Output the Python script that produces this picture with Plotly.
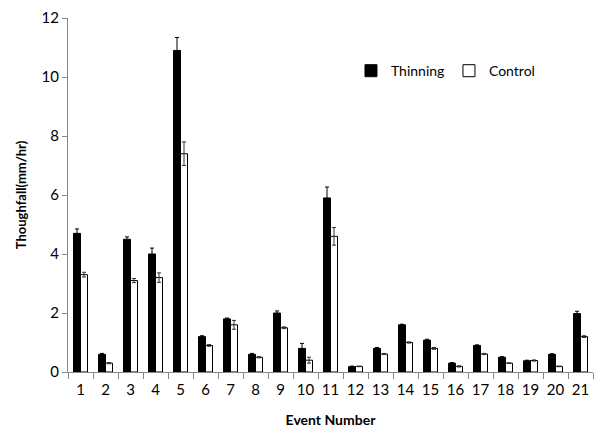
import plotly.graph_objects as go

events = [str(i) for i in range(1, 22)]
thinning = [4.7, 0.6, 4.5, 4.0, 10.9, 1.2, 1.8, 0.6, 2.0, 0.8, 5.9, 0.18, 0.8, 1.6, 1.08, 0.3, 0.9, 0.5, 0.38, 0.6, 1.98]
thinning_err = [0.15, 0.03, 0.08, 0.2, 0.44, 0.03, 0.03, 0.03, 0.07, 0.17, 0.37, 0.02, 0.03, 0.02, 0.03, 0.02, 0.02, 0.02, 0.02, 0.02, 0.08]
control = [3.3, 0.3, 3.1, 3.2, 7.4, 0.9, 1.6, 0.5, 1.5, 0.4, 4.6, 0.19, 0.61, 1.0, 0.8, 0.19, 0.61, 0.3, 0.39, 0.19, 1.2]
control_err = [0.08, 0.02, 0.07, 0.16, 0.4, 0.03, 0.15, 0.02, 0.03, 0.1, 0.3, 0.01, 0.02, 0.02, 0.03, 0.02, 0.02, 0.01, 0.02, 0.01, 0.03]

font = "Lato, 'Open Sans', sans-serif"

fig = go.Figure()
fig.add_trace(go.Bar(
    x=events, y=thinning, name="Thinning",
    marker=dict(color="black", line=dict(color="black", width=1)),
    error_y=dict(type="data", array=thinning_err, color="black", thickness=1, width=2),
))
fig.add_trace(go.Bar(
    x=events, y=control, name="Control",
    marker=dict(color="white", line=dict(color="black", width=1)),
    error_y=dict(type="data", array=control_err, color="#333", thickness=1, width=2),
))

fig.update_layout(
    width=596, height=429,
    margin=dict(l=68, r=3, t=18, b=57, autoexpand=False),
    paper_bgcolor="white", plot_bgcolor="white",
    barmode="group", bargap=0.44, bargroupgap=0,
    font=dict(family=font, color="black"),
    legend=dict(orientation="h", x=0.539, y=0.85, xanchor="left", yanchor="middle",
                font=dict(size=14, family=font), bgcolor="rgba(0,0,0,0)",
                itemwidth=30, traceorder="normal",
                entrywidth=53, entrywidthmode="pixels"),
    xaxis=dict(
        type="category", range=[-0.5, 20.5], tickson="boundaries", ticks="outside", ticklen=6,
        tickcolor="#888", showline=True, linecolor="#888", linewidth=1,
        tickangle=0, automargin=False, ticklabelstandoff=4,
        tickfont=dict(size=15, family=font), showgrid=False,
        title=dict(text="<b>Event Number</b>", font=dict(size=14, family=font), standoff=18),
    ),
    yaxis=dict(
        range=[0, 12], dtick=2, ticks="outside", ticklen=5, tickcolor="#888",
        showline=True, linecolor="#888", linewidth=1, showgrid=False, zeroline=False,
        automargin=False,
        tickfont=dict(size=15, family=font),
        title=dict(text="<b>Thoughfall(mm/hr)</b>", font=dict(size=13, family=font), standoff=12),
    ),
)

fig.write_html("out.html", config={"displayModeBar": False},
               post_script="document.body.style.margin='0';document.body.style.overflow='hidden';")
